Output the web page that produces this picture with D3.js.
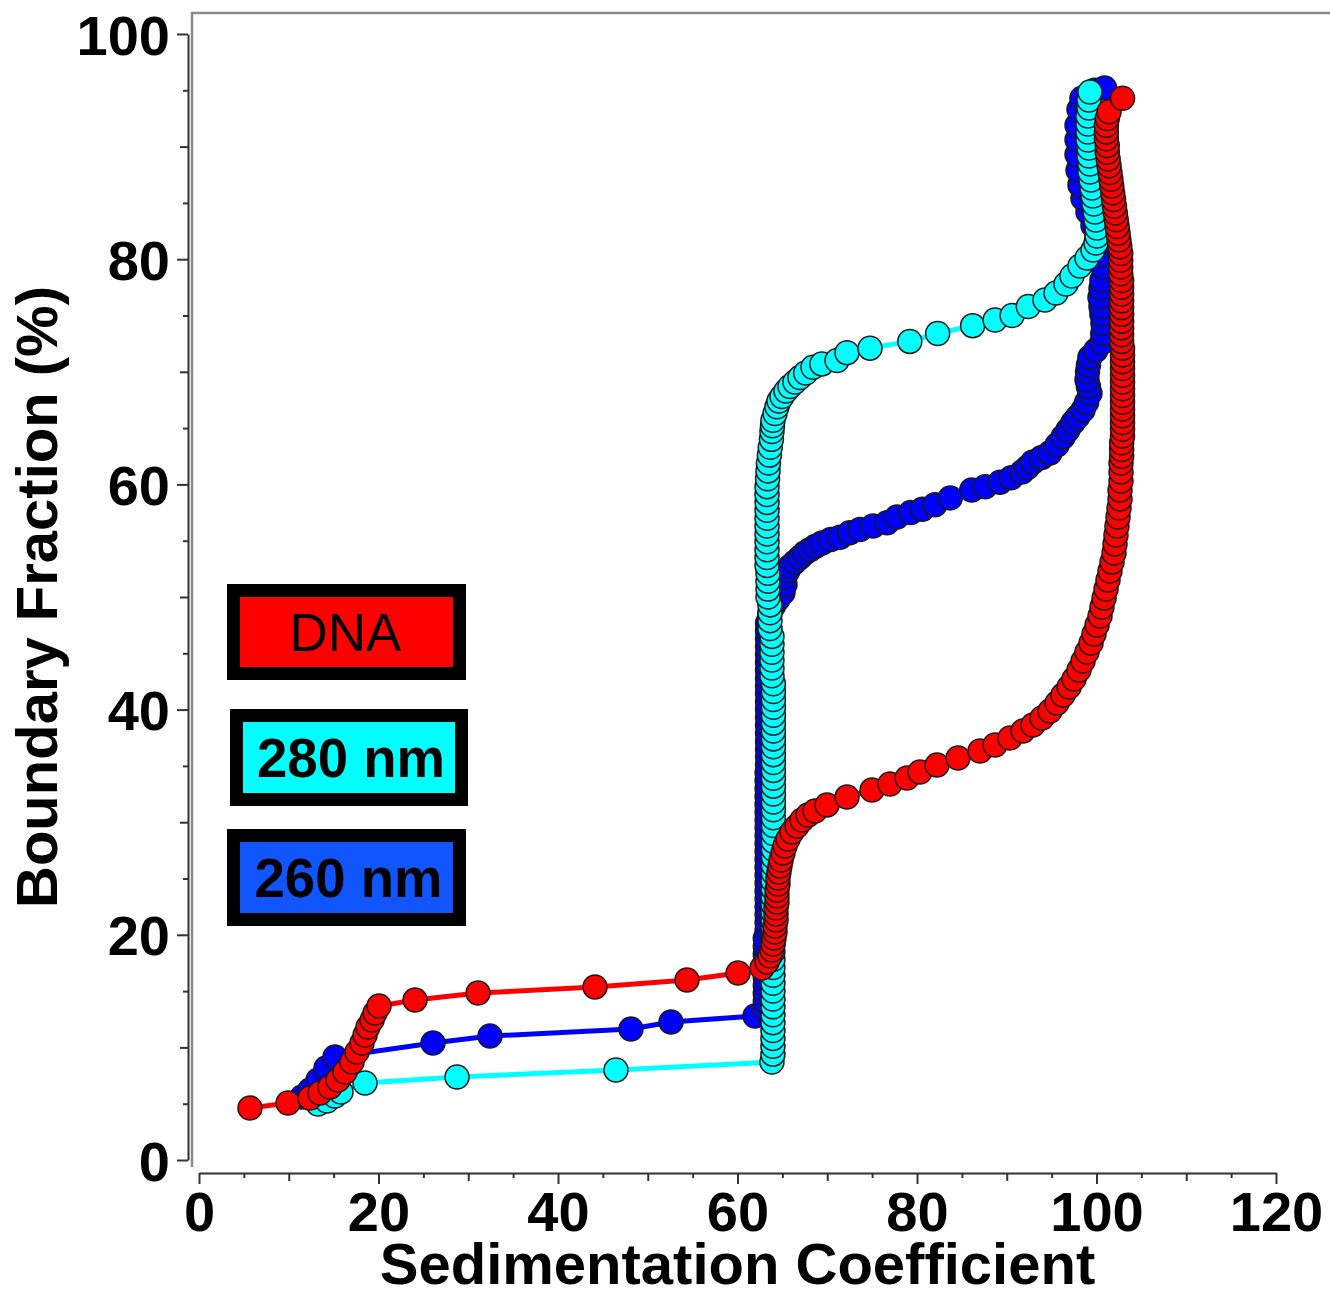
<!DOCTYPE html>
<html>
<head>
<meta charset="utf-8">
<script src="https://cdn.jsdelivr.net/npm/d3@7"></script>
<style>
  html, body { margin: 0; padding: 0; background: #fff; }
  svg { display: block; }
  text { font-family: Arial, "Liberation Sans", Helvetica, sans-serif; }
</style>
</head>
<body>
<svg id="chart" width="1330" height="1297"></svg>
<script>
// ---------------- DATA ----------------
const xTickValues = [0, 20, 40, 60, 80, 100, 120];
const yTickValues = [0, 20, 40, 60, 80, 100];
const xTitle = "Sedimentation Coefficient";
const yTitle = "Boundary Fraction (%)";
const legendLabels = ["DNA", "280 nm", "260 nm"];

// DNA (red)
const dnaX = [5.68,9.92,12.37,13.48,14.60,15.49,16.27,17.05,17.60,18.16,18.50,18.83,19.28,19.61,20.06,
  24.07,31.09,44.12,54.37,60.06,62.73,63.29,63.62,63.84,63.95,64.07,64.18,64.18,64.29,64.29,64.29,64.40,64.40,64.40,
  64.51,64.51,64.62,64.73,64.85,65.07,65.29,65.63,66.07,66.63,67.19,67.86,68.63,69.97,72.20,74.99,76.99,78.89,80.33,
  82.23,84.57,87.02,88.69,90.36,91.81,92.92,93.93,94.82,95.60,96.27,96.94,97.49,98.05,98.50,98.94,99.39,99.72,100.06,
  100.39,100.61,100.84,101.06,101.28,101.50,101.73,101.95,102.06,102.17,102.28,102.40,102.51,102.62,102.62,102.73,
  102.73,102.73,
  102.8,102.8,102.8,102.9,102.9,102.9,102.9,102.9,102.9,102.9,102.9,102.9,102.9,102.9,102.9,102.9,102.9,102.8,102.8,
  102.8,102.8,102.8,102.8,102.8,102.8,102.8,102.8,102.7,102.7,102.7,102.7,
  102.6,102.5,102.4,102.3,102.2,102.1,102.0,101.9,101.8,101.7,101.6,101.5,101.4,101.3,101.2,101.2,101.1,101.1,101.1,
  101.2,101.4,102.9];
const dnaY = [4.62,5.06,5.51,5.95,6.48,7.10,7.82,8.70,9.59,10.39,11.10,11.81,12.43,13.06,13.68,
  14.21,14.83,15.36,15.99,16.61,17.05,17.58,18.12,18.65,19.18,19.72,20.25,20.78,21.31,21.85,22.38,22.91,23.45,23.98,
  24.51,25.04,25.58,26.11,26.64,27.26,27.89,28.51,29.13,29.66,30.20,30.64,30.99,31.53,32.24,32.86,33.39,33.93,34.46,
  35.08,35.70,36.32,36.86,37.48,38.10,38.63,39.25,39.88,40.59,41.30,42.01,42.72,43.52,44.32,45.12,45.91,46.71,47.51,
  48.31,49.11,49.91,50.71,51.51,52.31,53.11,53.91,54.71,55.51,56.31,57.10,57.90,58.70,59.50,60.30,
  61.10,61.90,
  62.5,63.1,63.7,64.3,64.9,65.5,66.1,66.7,67.3,67.9,68.5,69.1,69.7,70.3,70.9,71.5,72.1,72.7,73.3,
  73.9,74.5,75.1,75.7,76.3,76.9,77.5,78.1,78.7,79.3,79.9,80.5,
  81.1,81.7,82.3,82.9,83.5,84.1,84.7,85.3,85.9,86.5,87.1,87.7,88.3,88.9,89.5,90.1,90.7,91.3,91.9,
  92.5,93.1,94.3];

// 280 nm (cyan)
const nm280X = [13.26,14.26,15.15,15.82,18.50,28.75,46.46,63.84,
  63.95,63.95,63.95,63.95,63.95,63.95,63.95,63.95,63.95,63.95,63.95,63.95,63.95,63.95,63.95,63.95,63.95,63.95,63.95,63.95,63.95,63.95,63.95,
  64.0,64.0,64.0,64.0,64.0,64.0,64.0,64.0,64.0,64.0,64.0,64.0,64.0,64.0,64.0,64.0,64.0,64.0,64.0,64.0,64.0,64.0,64.0,64.0,64.0,
  63.84,63.84,63.84,63.84,63.84,63.84,63.62,63.62,63.62,63.62,63.40,63.40,63.40,63.40,
  63.29,63.29,63.29,63.29,63.29,63.29,63.29,63.29,63.29,63.29,63.29,63.35,63.40,
  63.45,63.55,63.65,63.78,63.84,63.90,
  63.95,64.18,64.40,64.62,64.96,65.40,65.85,66.40,66.96,67.60,68.41,69.40,71.09,72.20,74.76,79.2,82.3,86.2,88.7,90.6,
  92.4,94.26,95.49,96.60,97.27,98.16,98.94,99.61,99.94,100.06,100.06,99.94,99.83,99.72,99.61,99.50,99.39,99.27,99.27,
  99.16,99.16,99.05,99.05,99.05,99.05,99.16,99.16,99.27];
const nm280Y = [4.97,5.24,5.68,6.04,6.84,7.37,7.99,8.70,
  9.4,10.1,10.8,11.5,12.2,12.9,13.6,14.3,15.0,15.7,16.4,17.1,17.8,18.5,19.2,19.9,20.6,21.3,22.0,22.7,23.4,24.1,24.8,
  25.5,26.2,26.9,27.6,28.3,29.0,29.7,30.4,31.1,31.8,32.5,33.2,33.9,34.6,35.3,36.0,36.7,37.4,38.1,38.8,39.5,40.2,40.9,41.6,42.3,
  43.0,43.7,44.4,45.1,45.8,46.5,47.2,47.9,48.6,49.3,50.0,50.7,51.4,52.1,
  52.8,53.5,54.2,54.9,55.6,56.3,57.0,57.7,58.4,59.1,59.8,60.5,61.2,
  61.9,62.6,63.3,64.0,64.7,65.2,
  65.7,66.3,66.9,67.4,67.8,68.3,68.7,69.1,69.5,69.9,70.4,70.7,71.0,71.7,72.1,72.7,73.4,74.1,74.6,75.0,
  75.8,76.38,77.00,77.80,78.51,79.40,80.11,80.82,81.44,82.06,82.77,83.48,84.19,84.90,85.61,86.32,87.03,87.74,88.45,
  89.17,89.88,90.59,91.30,92.01,92.72,93.43,94.14,94.85];

// 260 nm (blue)
const nm260X = [11.48,12.37,13.26,14.15,15.15,26.07,32.42,48.13,52.59,61.95,
  63.1,63.1,63.1,63.1,63.1,63.1,63.1,63.1,63.1,63.1,
  63.3,63.3,63.3,63.3,63.3,63.3,63.3,63.3,63.3,63.3,63.3,63.3,63.3,63.3,63.3,63.3,63.3,63.3,63.3,63.3,63.3,
  63.35,63.35,63.35,63.35,63.35,63.35,63.35,63.35,63.35,63.35,63.35,63.35,63.35,63.35,63.35,63.35,63.35,63.35,63.35,
  63.6,64.0,64.5,65.07,65.29,65.29,65.6,65.85,66.4,66.96,67.5,68.08,68.7,69.42,70.4,71.42,72.5,73.65,75.1,76.66,77.77,
  79.3,80.6,82.0,83.7,86.1,87.6,89.25,90.5,91.70,92.3,92.92,93.9,94.82,95.6,96.27,96.8,97.38,97.9,98.50,98.9,99.27,
  99.1,98.94,99.0,99.1,99.27,99.9,100.61,100.7,100.72,100.6,100.5,100.39,100.5,100.6,100.72,100.61,100.39,100.06,
  99.61,99.05,98.50,98.16,97.94,97.83,97.83,97.83,98.05,98.38,99.8,100.9];
const nm260Y = [5.60,6.22,7.10,8.17,9.15,10.39,11.01,11.63,12.26,12.79,
  13.4,14.1,14.8,15.5,16.2,16.9,17.6,18.3,19.0,19.7,
  20.4,21.1,21.8,22.5,23.2,23.9,24.6,25.3,26.0,26.7,27.4,28.1,28.8,29.5,30.2,30.9,31.6,32.3,33.0,33.7,34.4,
  35.1,35.8,36.5,37.2,37.9,38.6,39.3,40.0,40.7,41.4,42.1,42.8,43.5,44.2,44.9,45.6,46.3,47.0,47.7,
  48.5,49.2,49.8,50.4,51.1,51.8,52.3,52.7,53.1,53.5,53.9,54.2,54.5,54.8,55.1,55.3,55.7,56.0,56.3,56.6,57.1,
  57.5,57.8,58.2,58.8,59.5,59.8,60.2,60.6,61.1,61.5,62.0,62.4,62.8,63.5,64.2,64.8,65.5,66.0,66.6,67.3,68.1,
  68.7,69.3,70.0,70.6,71.3,71.9,72.6,73.4,74.3,75.1,75.8,76.6,77.4,78.1,79.3,80.4,81.3,82.1,
  83.0,84.2,85.4,86.6,87.9,89.3,90.6,91.9,93.3,94.3,95.0,95.2];

const seriesColors = { dna: "#ff0000", nm280: "#00ffff", nm260: "#0000ff" };
const legendFills = ["#ff0000", "#00ffff", "#1155ff"];

// ---------------- CHART ----------------
const svg = d3.select("#chart");
svg.append("rect").attr("width", 1330).attr("height", 1297).attr("fill", "#fff");

const x = d3.scaleLinear().domain([0, 120]).range([199, 1276]);
const y = d3.scaleLinear().domain([0, 100]).range([1160, 34]);

// grey frame (top and left)
svg.append("path")
  .attr("d", "M192,1167 L192,13 L1330,13")
  .attr("fill", "none").attr("stroke", "#8a8a8a").attr("stroke-width", 2.5);

function tickLen(d) { return d % 20 === 0 ? 11 : (d % 10 === 0 ? 8 : 5); }

// X axis
const xAxis = d3.axisBottom(x)
  .tickValues(d3.range(0, 121, 5))
  .tickSizeOuter(0)
  .tickFormat(d => xTickValues.includes(d) ? d : "");
const gx = svg.append("g").attr("transform", "translate(0,1173)").call(xAxis);
gx.select(".domain").attr("stroke", "#333").attr("stroke-width", 2);
gx.selectAll(".tick line").attr("stroke", "#333").attr("stroke-width", 2).attr("y2", d => tickLen(d));
gx.selectAll(".tick text")
  .attr("y", 58).attr("dy", 0)
  .attr("font-size", 56).attr("font-weight", "bold").attr("fill", "#000")
  .attr("font-family", "Arial, 'Liberation Sans', sans-serif");

// Y axis
const yAxis = d3.axisLeft(y)
  .tickValues(d3.range(0, 101, 5))
  .tickSizeOuter(0)
  .tickFormat(d => yTickValues.includes(d) ? d : "");
const gy = svg.append("g").attr("transform", "translate(188,0)").call(yAxis);
gy.select(".domain").attr("stroke", "#333").attr("stroke-width", 2);
gy.selectAll(".tick line").attr("stroke", "#333").attr("stroke-width", 2).attr("x2", d => -tickLen(d));
gy.selectAll(".tick text")
  .attr("x", -18).attr("dy", "0.36em")
  .attr("font-size", 56).attr("font-weight", "bold").attr("fill", "#000")
  .attr("font-family", "Arial, 'Liberation Sans', sans-serif");

// Titles
svg.append("text")
  .attr("x", (x(0) + x(120)) / 2).attr("y", 1284)
  .attr("text-anchor", "middle").attr("font-size", 58).attr("font-weight", "bold")
  .text(xTitle);
svg.append("text")
  .attr("transform", `translate(57,${(y(0) + y(100)) / 2}) rotate(-90)`)
  .attr("text-anchor", "middle").attr("font-size", 58).attr("font-weight", "bold")
  .text(yTitle);

// Series
function drawSeries(xs, ys, color) {
  const n = Math.min(xs.length, ys.length);
  const pts = d3.range(n).map(i => [xs[i], ys[i]]);
  const g = svg.append("g");
  g.append("path")
    .datum(pts)
    .attr("d", d3.line().x(d => x(d[0])).y(d => y(d[1])))
    .attr("fill", "none").attr("stroke", color).attr("stroke-width", 5);
  g.selectAll("circle").data(pts).join("circle")
    .attr("cx", d => x(d[0])).attr("cy", d => y(d[1])).attr("r", 12)
    .attr("fill", color).attr("stroke", "#1a1a1a").attr("stroke-width", 1.5);
}
drawSeries(nm260X, nm260Y, seriesColors.nm260);
drawSeries(nm280X, nm280Y, seriesColors.nm280);
drawSeries(dnaX, dnaY, seriesColors.dna);

// Legend boxes
const legendBoxes = [
  { x: 227, y: 584, w: 239, h: 96 },
  { x: 230, y: 709, w: 238, h: 97 },
  { x: 227, y: 829, w: 239, h: 97 }
];
legendBoxes.forEach((b, i) => {
  svg.append("rect").attr("x", b.x).attr("y", b.y).attr("width", b.w).attr("height", b.h).attr("fill", "#000");
  svg.append("rect").attr("x", b.x + 13).attr("y", b.y + 13).attr("width", b.w - 26).attr("height", b.h - 26)
    .attr("fill", legendFills[i]);
  svg.append("text")
    .attr("x", b.x + b.w / 2 + (i === 0 ? -1 : 2)).attr("y", b.y + b.h / 2 + 19)
    .attr("text-anchor", "middle")
    .attr("font-size", i === 0 ? 53 : 56)
    .attr("font-weight", i === 0 ? "normal" : "bold")
    .attr("textLength", i === 0 ? null : 188)
    .attr("lengthAdjust", "spacingAndGlyphs")
    .attr("fill", "#000")
    .text(legendLabels[i]);
});
</script>
</body>
</html>
